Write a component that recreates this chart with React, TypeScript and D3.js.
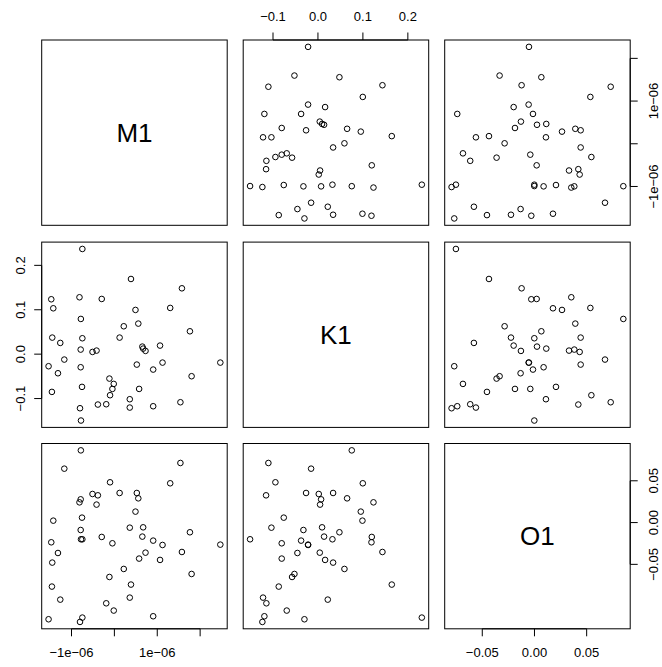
import React from "react";
import * as d3 from "d3";

// ---------- data ----------
const variables = ["M1", "K1", "O1"];

const M1 = [
  -0.747e-6, 0.387e-6, 1.575e-6, -1.472e-6, -0.814e-6, -0.295e-6, -1.425e-6, 0.492e-6,
  1.302e-6, -0.782e-6, 0.219e-6, 0.558e-6, 1.762e-6, -1.449e-6, -1.262e-6, -0.747e-6,
  0.122e-6, 0.652e-6, 0.671e-6, 0.726e-6, 1.065e-6, -0.786e-6, -0.51e-6, -0.416e-6,
  -1.168e-6, -1.535e-6, -1.316e-6, -0.786e-6, 0.523e-6, 0.905e-6, 1.123e-6, 2.471e-6,
  1.801e-6, -0.116e-6, -0.015e-6, -0.046e-6, -0.755e-6, -0.101e-6, 0.577e-6, -1.457e-6,
  0.359e-6, 1.54e-6, -0.385e-6, -0.19e-6, -0.802e-6, 0.359e-6, 0.905e-6, -0.779e-6,
];

const K1 = [
  0.2369, 0.1693, 0.1483, 0.1236, 0.1281, 0.1243, 0.1033, 0.0996,
  0.1041, 0.0793, 0.0628, 0.0688, 0.0515, 0.0373, 0.0253, 0.0358,
  0.0373, 0.017, 0.0125, 0.0073, 0.0193, 0.0103, 0.005, 0.008,
  -0.0122, -0.0272, -0.043, -0.0295, -0.0235, -0.0347, -0.019, -0.019,
  -0.0497, -0.055, -0.067, -0.0783, -0.0737, -0.0925, -0.0783, -0.085,
  -0.1015, -0.1083, -0.1135, -0.1128, -0.1218, -0.1203, -0.1173, -0.1495,
];

const O1 = [
  -0.1137, -0.0742, -0.0352, -0.0236, 0.0242, -0.0172, 0.0023, 0.0131,
  0.047, 0.0864, -0.0555, 0.029, -0.0116, -0.0479, -0.0922, -0.02,
  0.0354, -0.0168, -0.0057, -0.036, -0.0447, 0.0278, 0.0342, 0.0215,
  0.0645, -0.1157, -0.0364, -0.0089, 0.0354, -0.0216, -0.0268, -0.0264,
  -0.0615, -0.0651, -0.1053, -0.0248, 0.0059, 0.0482, -0.0431, -0.0766,
  -0.0061, 0.0713, 0.0326, -0.0966, -0.1189, -0.0898, -0.1121, -0.02,
];

const M1Ticks = [-1e-6, 0, 1e-6, 2e-6];
const M1TickLabels = ["\u22121e\u221206", "", "1e\u221206", ""];
const K1Ticks = [-0.1, 0, 0.1, 0.2];
const K1TickLabels = ["\u22120.1", "0.0", "0.1", "0.2"];
const O1Ticks = [-0.05, 0, 0.05];
const O1TickLabels = ["\u22120.05", "0.00", "0.05"];

// ---------- layout ----------
const W = 662;
const H = 667;
const colLeft = [41.7, 243.2, 444.7];
const rowTop = [40, 242.1, 443.5];
const PW = 185.5;
const PH = 185.3;
const TICK = 7.5;
const FONT = "'Liberation Sans', Arial, Helvetica, sans-serif";

const series = [M1, K1, O1];

function padded(v: number[]): [number, number] {
  const [lo, hi] = d3.extent(v) as [number, number];
  const r = hi - lo;
  return [lo - 0.04 * r, hi + 0.04 * r];
}

const domains = series.map(padded);
const xScale = (j: number) =>
  d3.scaleLinear().domain(domains[j]).range([colLeft[j], colLeft[j] + PW]);
const yScale = (i: number) =>
  d3.scaleLinear().domain(domains[i]).range([rowTop[i] + PH, rowTop[i]]);

// axis scales (the reference's upper-panel axes are placed slightly differently)
const topK1Axis = d3.scaleLinear().domain([-0.1663, 0.2464]).range([colLeft[1], colLeft[1] + PW]);
const rightM1Axis = d3.scaleLinear().domain([-1.909e-6, 2.43e-6]).range([rowTop[0] + PH, rowTop[0]]);
const bottomO1Axis = d3.scaleLinear().domain([-0.086, 0.0917]).range([colLeft[2], colLeft[2] + PW]);

type Side = "bottom" | "top" | "left" | "right";

function Axis({
  scale,
  ticks,
  labels,
  side,
  edge,
}: {
  scale: d3.ScaleLinear<number, number>;
  ticks: number[];
  labels: string[];
  side: Side;
  edge: number;
}) {
  const pos = ticks.map((t) => scale(t));
  const horiz = side === "bottom" || side === "top";
  const dir = side === "bottom" || side === "right" ? 1 : -1;
  const first = pos[0];
  const last = pos[pos.length - 1];
  const labelOff = horiz ? 24 : side === "left" ? 21.5 : 22.8;
  return (
    <g>
      {horiz ? (
        <line x1={first} x2={last} y1={edge} y2={edge} stroke="#000" strokeWidth={1} />
      ) : (
        <line x1={edge} x2={edge} y1={first} y2={last} stroke="#000" strokeWidth={1} />
      )}
      {pos.map((p, k) =>
        horiz ? (
          <line key={"t" + k} x1={p} x2={p} y1={edge} y2={edge + dir * TICK} stroke="#000" strokeWidth={1} />
        ) : (
          <line key={"t" + k} x1={edge} x2={edge + dir * TICK} y1={p} y2={p} stroke="#000" strokeWidth={1} />
        )
      )}
      {pos.map((p, k) =>
        labels[k] ? (
          horiz ? (
            <text
              key={"l" + k}
              x={p}
              y={edge + dir * labelOff}
              dy="0.35em"
              textAnchor="middle"
              fontSize={13}
              fontFamily={FONT}
              fill="#000"
            >
              {labels[k]}
            </text>
          ) : (
            <text
              key={"l" + k}
              transform={`translate(${edge + dir * labelOff},${p}) rotate(-90)`}
              dy="0.35em"
              textAnchor="middle"
              fontSize={13}
              fontFamily={FONT}
              fill="#000"
            >
              {labels[k]}
            </text>
          )
        ) : null
      )}
    </g>
  );
}

export default function App() {
  const n = variables.length;
  const panels: React.ReactNode[] = [];
  for (let i = 0; i < n; i++) {
    for (let j = 0; j < n; j++) {
      const x0 = colLeft[j];
      const y0 = rowTop[i];
      const key = `${i}-${j}`;
      if (i === j) {
        panels.push(
          <g key={key}>
            <text
              x={x0 + PW / 2}
              y={y0 + PH / 2}
              dy="0.35em"
              textAnchor="middle"
              fontSize={26}
              fontFamily={FONT}
              fill="#000"
            >
              {variables[i]}
            </text>
          </g>
        );
      } else {
        const xs = xScale(j);
        const ys = yScale(i);
        const xv = series[j];
        const yv = series[i];
        panels.push(
          <g key={key}>
            {xv.map((v, k) => (
              <circle
                key={k}
                cx={xs(v)}
                cy={ys(yv[k])}
                r={2.8}
                fill="none"
                stroke="#000"
                strokeWidth={1}
              />
            ))}
          </g>
        );
      }
      panels.push(
        <rect
          key={key + "box"}
          x={x0}
          y={y0}
          width={PW}
          height={PH}
          fill="none"
          stroke="#000"
          strokeWidth={1}
        />
      );
    }
  }

  return (
    <svg
      width={W}
      height={H}
      viewBox={`0 0 ${W} ${H}`}
      style={{ position: "absolute", left: 0, top: 0, background: "#fff" }}
    >
      <rect x={0} y={0} width={W} height={H} fill="#fff" />
      {panels}
      <Axis scale={xScale(0)} ticks={M1Ticks} labels={M1TickLabels} side="bottom" edge={rowTop[2] + PH} />
      <Axis scale={bottomO1Axis} ticks={O1Ticks} labels={O1TickLabels} side="bottom" edge={rowTop[2] + PH} />
      <Axis scale={topK1Axis} ticks={K1Ticks} labels={K1TickLabels} side="top" edge={rowTop[0]} />
      <Axis scale={yScale(1)} ticks={K1Ticks} labels={K1TickLabels} side="left" edge={colLeft[0]} />
      <Axis scale={rightM1Axis} ticks={M1Ticks} labels={M1TickLabels} side="right" edge={colLeft[2] + PW} />
      <Axis scale={yScale(2)} ticks={O1Ticks} labels={O1TickLabels} side="right" edge={colLeft[2] + PW} />
    </svg>
  );
}
